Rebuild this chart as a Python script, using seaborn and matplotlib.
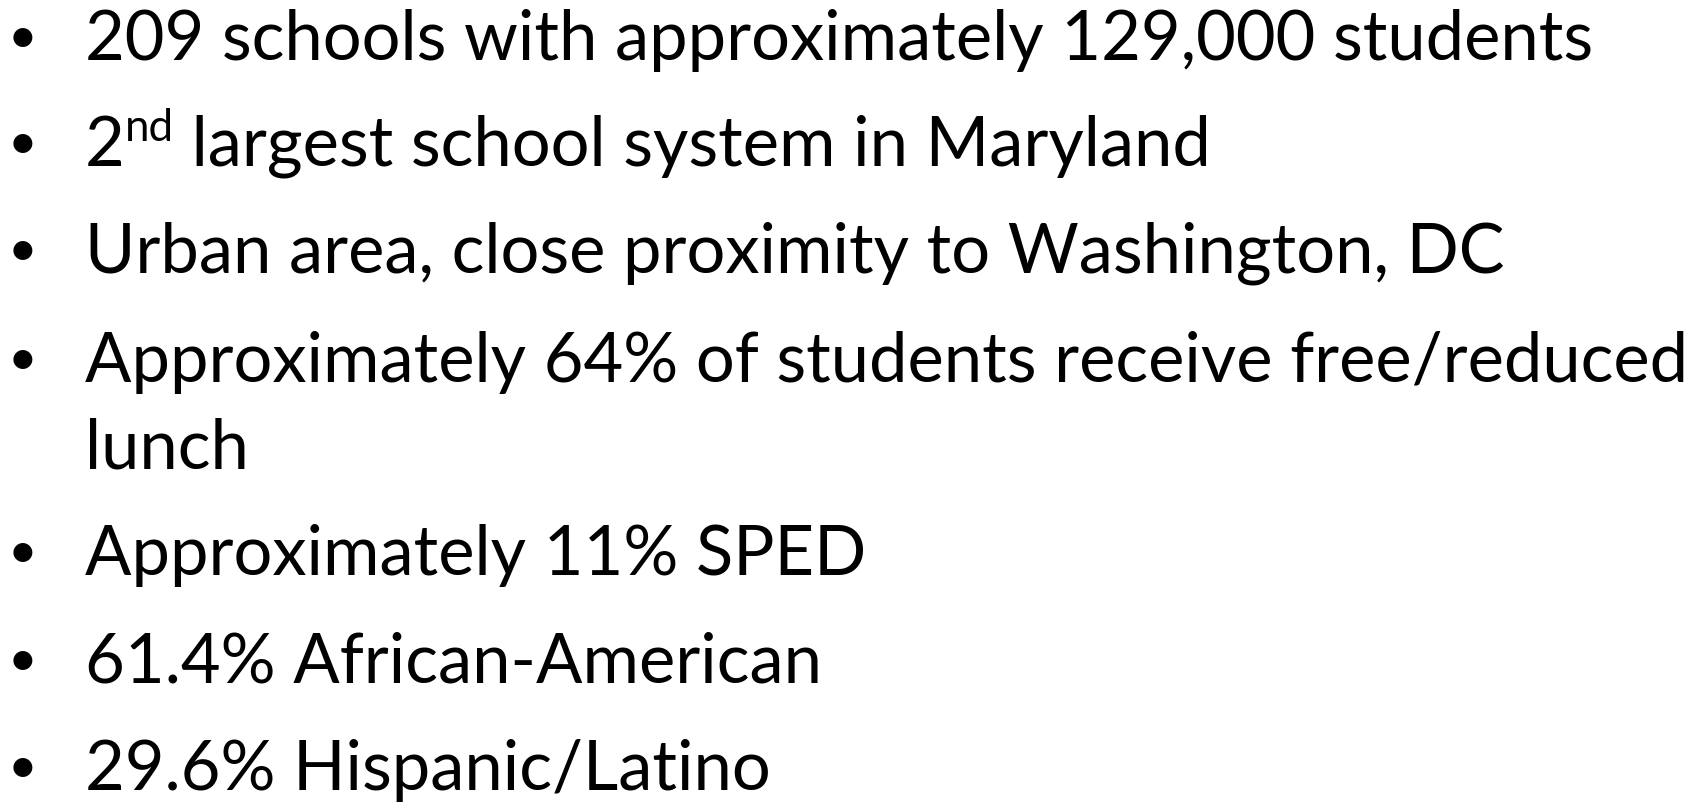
import matplotlib
matplotlib.use("Agg")
import matplotlib.pyplot as plt
import seaborn as sns

# ── Contenu de la diapo ──────────────────────────────────
BULLETS = [
    ["209 schools with approximately 129,000 students"],
    ["2", "nd", " largest school system in Maryland"],
    ["Urban area, close proximity to Washington, DC"],
    ["Approximately 64% of students receive free/reduced", "lunch"],
    ["Approximately 11% SPED"],
    ["61.4% African-American"],
    ["29.6% Hispanic/Latino"],
]

# ── Mise en page (pixels de la figure) ───────────────────
W, H = 1701, 803
BULLET_X = 8
TEXT_X = 85
TARGET_W = 1600          # largeur de la ligne la plus longue
BASELINES = [60, 166, 273, 382, 469, 575, 683, 790]

sns.set_theme(style="white")
plt.rcParams["font.family"] = ["Lato", "DejaVu Sans"]

fig = plt.figure(figsize=(W / 100, H / 100), dpi=100)
fig.patch.set_facecolor("white")
ax = fig.add_axes([0, 0, 1, 1])
ax.set_xlim(0, W)
ax.set_ylim(H, 0)
ax.axis("off")

fig.canvas.draw()
renderer = fig.canvas.get_renderer()

# taille de police ajustée pour que la ligne la plus longue tienne
probe = ax.text(0, 0, BULLETS[3][0], fontsize=40)
fs = 40 * TARGET_W / probe.get_window_extent(renderer).width
probe.remove()
px = fs * 100 / 72


def width_of(s, size):
    t = ax.text(0, 0, s, fontsize=size)
    w = t.get_window_extent(renderer).width
    t.remove()
    return w


row = 0
for i, item in enumerate(BULLETS):
    y = BASELINES[row]
    ax.text(BULLET_X, y - px * 0.1, "•", fontsize=fs * 0.75, va="baseline",
            ha="left", color="black")
    if i == 1:
        # exposant « nd »
        x = TEXT_X
        ax.text(x, y, item[0], fontsize=fs, va="baseline", color="black")
        x += width_of(item[0], fs)
        small = fs * 0.64
        ax.text(x, y - px * 0.36, item[1], fontsize=small, va="baseline", color="black")
        x += width_of(item[1], small)
        ax.text(x, y, item[2], fontsize=fs, va="baseline", color="black")
        row += 1
    else:
        for part in item:
            ax.text(TEXT_X, BASELINES[row], part, fontsize=fs, va="baseline",
                    ha="left", color="black")
            row += 1

fig.savefig("out.png", dpi=100, facecolor="white")
plt.close(fig)
